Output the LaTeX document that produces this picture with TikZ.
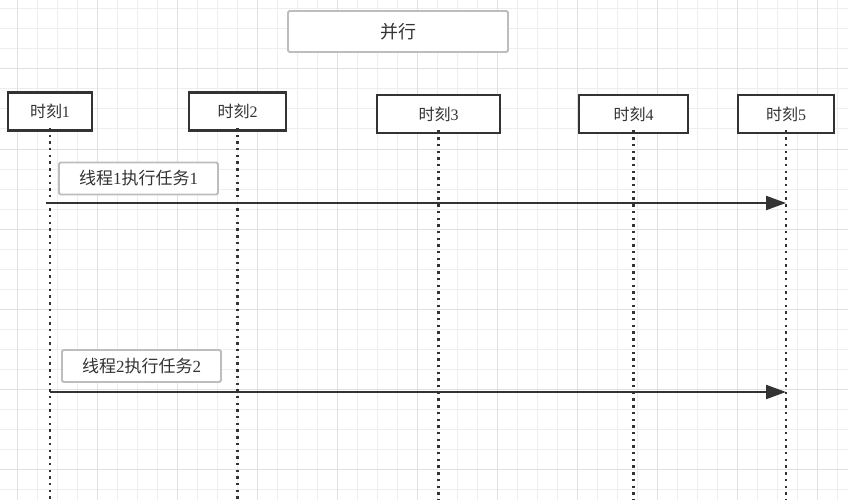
\documentclass[tikz,border=0pt]{standalone}
\usepackage{fontspec}
\setmainfont{Liberation Serif}
\newfontfamily\cjk{Noto Sans CJK SC}
\usetikzlibrary{arrows.meta,positioning}

\definecolor{gridminor}{HTML}{EEEEEE}
\definecolor{gridmajor}{HTML}{E0E0E0}
\definecolor{ink}{HTML}{333333}
\definecolor{frame}{HTML}{BDBDBD}
\newcommand\zh[1]{{\cjk #1}}

\begin{document}
\begin{tikzpicture}[x=1pt,y=-1pt,
  moment/.style={draw=ink,line width=2.8pt,fill=white,text=ink,inner sep=0pt,
    minimum height=38pt,font=\fontsize{16}{18}\selectfont},
  tag/.style={draw=frame,line width=1.8pt,rounded corners=1.5pt,fill=white,text=ink,
    inner sep=0pt,minimum width=159pt,minimum height=32pt,font=\fontsize{17}{19}\selectfont},
  lifeline/.style={ink,line width=2.6pt,dash pattern=on 2.4pt off 4.3pt},
  run/.style={ink,line width=2.2pt,-{Triangle[length=20pt,width=14pt]}}]

% background grid
\fill[white] (0,0) rectangle (848,500);
\useasboundingbox (0,0) rectangle (848,500);
\foreach \gx in {17,37,...,847} \draw[gridminor,line width=1pt] (\gx,0) -- (\gx,500);
\foreach \gy in {9,29,...,489} \draw[gridminor,line width=1pt] (0,\gy) -- (848,\gy);
\foreach \gx in {17,97,...,817} \draw[gridmajor,line width=1pt] (\gx,0) -- (\gx,500);
\foreach \gy in {69,149,...,469} \draw[gridmajor,line width=1pt] (0,\gy) -- (848,\gy);

\node[tag,minimum width=220pt,minimum height=41pt,font=\fontsize{18}{20}\selectfont]
  (title) at (398,31.5) {\zh{并行}};

\node[moment,minimum width=84pt] (m1) at (50,111.5) {\zh{时刻}1};
\node[moment,minimum width=97pt] (m2) at (237.5,111.5) {\zh{时刻}2};
\node[moment,minimum width=123pt] (m3) at (438.5,114) {\zh{时刻}3};
\node[moment,minimum width=109pt] (m4) at (633.5,114) {\zh{时刻}4};
\node[moment,minimum width=96pt] (m5) at (786,114) {\zh{时刻}5};

% lifelines
\foreach \t in {1,...,5}
  \draw[lifeline] ([yshift=4pt]m\t.south) -- (m\t.south |- 0,500);

\node[tag] (task1) at (138.5,178.5) {\zh{线程}1\zh{执行任务}1};
\node[tag] (task2) at (141.5,366) {\zh{线程}2\zh{执行任务}2};

\coordinate (s1) at (46,203);
\coordinate (s2) at (50,392);

\draw[run] (s1) -- (m5 |- s1);
\draw[run] (s2) -- (m5 |- s2);
\end{tikzpicture}
\end{document}
